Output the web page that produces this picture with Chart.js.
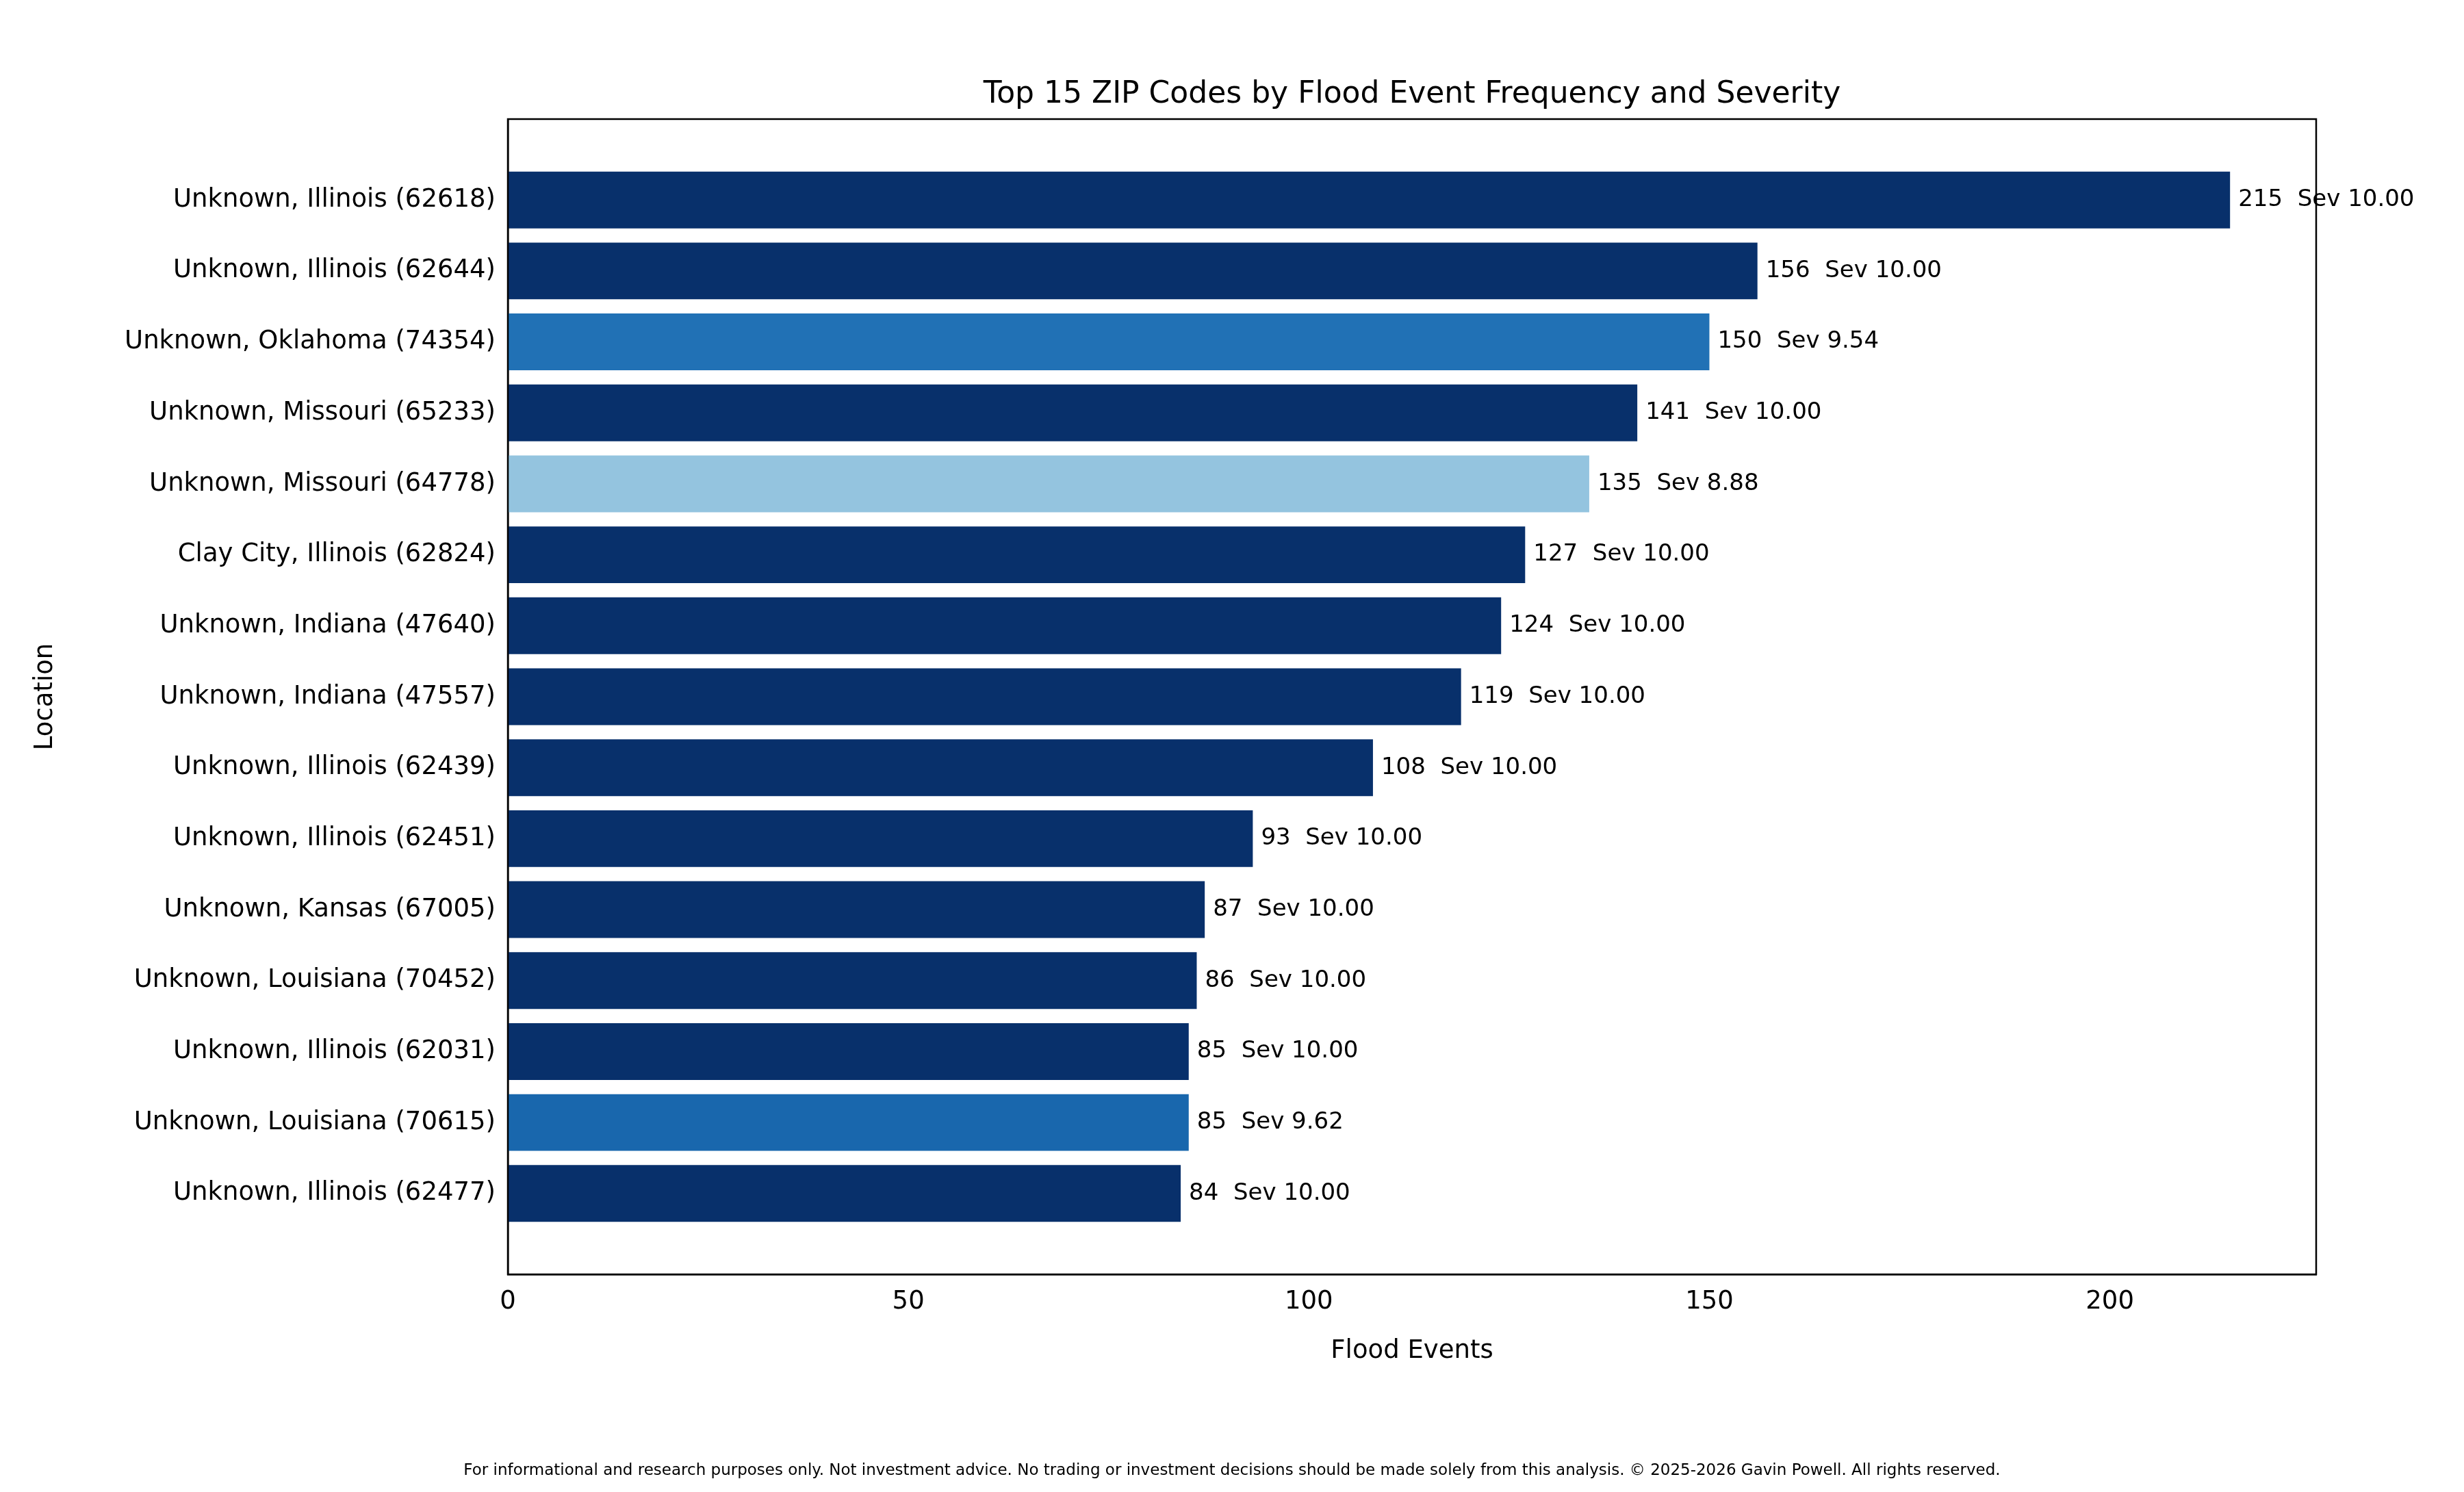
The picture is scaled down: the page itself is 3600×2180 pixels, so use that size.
<!DOCTYPE html>
<html><head><meta charset="utf-8">
<script src="https://cdn.jsdelivr.net/npm/chart.js@4"></script>
<style>html,body{margin:0;background:#fff}#w{position:relative;width:3600px;height:2180px}</style>
</head><body><div id="w"><canvas id="c" width="3600" height="2180"></canvas></div>
<script>
const locations = ["Unknown, Illinois (62618)","Unknown, Illinois (62644)","Unknown, Oklahoma (74354)","Unknown, Missouri (65233)","Unknown, Missouri (64778)","Clay City, Illinois (62824)","Unknown, Indiana (47640)","Unknown, Indiana (47557)","Unknown, Illinois (62439)","Unknown, Illinois (62451)","Unknown, Kansas (67005)","Unknown, Louisiana (70452)","Unknown, Illinois (62031)","Unknown, Louisiana (70615)","Unknown, Illinois (62477)"];
const events = [215,156,150,141,135,127,124,119,108,93,87,86,85,85,84];
const severity = [10.00,10.00,9.54,10.00,8.88,10.00,10.00,10.00,10.00,10.00,10.00,10.00,10.00,9.62,10.00];
const barColors = ["#08306b","#08306b","#2171b5","#08306b","#94c4df","#08306b","#08306b","#08306b","#08306b","#08306b","#08306b","#08306b","#08306b","#1967ad","#08306b"];
const F = "'DejaVu Sans', sans-serif";
Chart.defaults.font.family = F;
Chart.defaults.color = "#000";
const labelPlugin = {
  id:'lbl',
  afterDatasetsDraw(chart){
    const ctx = chart.ctx, meta = chart.getDatasetMeta(0);
    ctx.save(); ctx.font = "34px "+F; ctx.fillStyle="#000"; ctx.textBaseline="middle";
    meta.data.forEach((b,i)=>{ ctx.fillText(events[i]+"  Sev "+severity[i].toFixed(2), b.x+12, b.y); });
    ctx.restore();
  },
  afterDraw(chart){
    const a = chart.chartArea, ctx = chart.ctx;
    ctx.save(); ctx.strokeStyle="#000"; ctx.lineWidth=2.5; ctx.strokeRect(a.left,a.top,a.right-a.left,a.bottom-a.top);
    ctx.font="44px "+F; ctx.textAlign="center"; ctx.textBaseline="alphabetic";
    ctx.fillText("Top 15 ZIP Codes by Flood Event Frequency and Severity",(a.left+a.right)/2,150);
    ctx.font="23px "+F;
    ctx.fillText("For informational and research purposes only. Not investment advice. No trading or investment decisions should be made solely from this analysis. © 2025-2026 Gavin Powell. All rights reserved.",1800,2155);
    ctx.restore();
  }
};
new Chart(document.getElementById('c'),{
  type:'bar',
  data:{datasets:[{data:events.map((v,i)=>({x:v,y:i})),backgroundColor:barColors,barPercentage:0.8,categoryPercentage:1}]},
  options:{
    indexAxis:'y', responsive:false, animation:false,
    layout:{padding:{top:174,right:216,bottom:183,left:40}},
    plugins:{legend:{display:false},tooltip:{enabled:false}},
    scales:{
      x:{type:'linear',min:0,max:225.75,grid:{display:false},border:{color:'#000',width:2.5},
         afterBuildTicks(s){s.ticks=[0,50,100,150,200].map(v=>({value:v}));},
         ticks:{font:{size:37},color:'#000',padding:10},
         title:{display:true,text:'Flood Events',font:{size:37},padding:{top:8,bottom:0}},
         afterFit(s){s.height=135;}},
      y:{type:'linear',reverse:true,offset:false,min:-1.14,max:15.14,grid:{display:false},border:{color:'#000',width:2.5},
         afterBuildTicks(s){s.ticks=locations.map((_,i)=>({value:i}));},
         ticks:{font:{size:37},color:'#000',padding:10,callback:(v)=>locations[v]},
         title:{display:true,text:'Location',font:{size:37},padding:{bottom:8}},
         afterFit(s){s.width=702;}}
    }
  },
  plugins:[labelPlugin]
});
</script></body></html>
